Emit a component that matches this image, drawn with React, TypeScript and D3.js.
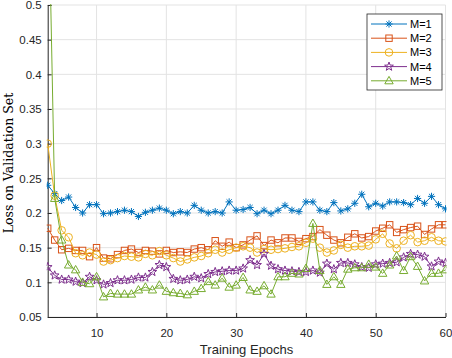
import React, { useEffect, useRef } from 'react';
import * as d3 from 'd3';

const epochs = [3, 4, 5, 6, 7, 8, 9, 10, 11, 12, 13, 14, 15, 16, 17, 18, 19, 20, 21, 22, 23, 24, 25, 26, 27, 28, 29, 30,
  31, 32, 33, 34, 35, 36, 37, 38, 39, 40, 41, 42, 43, 44, 45, 46, 47, 48, 49, 50, 51, 52, 53, 54, 55, 56, 57, 58, 59, 60];

const lossM1 = [0.240, 0.228, 0.218, 0.223, 0.208, 0.200, 0.212, 0.212, 0.199, 0.200, 0.202, 0.204, 0.202, 0.195, 0.201,
  0.204, 0.207, 0.204, 0.199, 0.202, 0.200, 0.211, 0.204, 0.200, 0.202, 0.200, 0.216, 0.204, 0.205, 0.208, 0.199, 0.204,
  0.199, 0.204, 0.211, 0.204, 0.202, 0.216, 0.216, 0.204, 0.202, 0.215, 0.203, 0.206, 0.214, 0.227, 0.209, 0.214, 0.210,
  0.216, 0.216, 0.215, 0.212, 0.221, 0.214, 0.224, 0.212, 0.206];

const lossM2 = [0.178, 0.161, 0.147, 0.149, 0.146, 0.146, 0.137, 0.150, 0.135, 0.134, 0.140, 0.146, 0.148, 0.143, 0.146,
  0.145, 0.141, 0.146, 0.143, 0.144, 0.143, 0.148, 0.150, 0.147, 0.160, 0.152, 0.158, 0.150, 0.154, 0.161, 0.167, 0.153,
  0.161, 0.157, 0.164, 0.164, 0.159, 0.163, 0.166, 0.176, 0.168, 0.161, 0.157, 0.165, 0.170, 0.164, 0.166, 0.174, 0.178,
  0.183, 0.172, 0.176, 0.179, 0.181, 0.169, 0.177, 0.183, 0.183];

const lossM3 = [0.300, 0.225, 0.175, 0.165, 0.142, 0.139, 0.143, 0.140, 0.130, 0.132, 0.135, 0.138, 0.137, 0.136, 0.141,
  0.139, 0.145, 0.139, 0.135, 0.130, 0.133, 0.136, 0.138, 0.142, 0.147, 0.143, 0.147, 0.150, 0.152, 0.150, 0.143, 0.148,
  0.147, 0.148, 0.149, 0.151, 0.152, 0.157, 0.163, 0.150, 0.143, 0.146, 0.154, 0.150, 0.152, 0.152, 0.153, 0.162, 0.170,
  0.156, 0.149, 0.160, 0.168, 0.158, 0.160, 0.165, 0.160, 0.159];

const lossM4 = [0.122, 0.110, 0.104, 0.104, 0.101, 0.099, 0.108, 0.103, 0.097, 0.099, 0.103, 0.103, 0.104, 0.107, 0.107,
  0.115, 0.125, 0.122, 0.105, 0.103, 0.104, 0.108, 0.106, 0.112, 0.115, 0.116, 0.117, 0.117, 0.120, 0.132, 0.125, 0.141,
  0.124, 0.119, 0.117, 0.116, 0.115, 0.115, 0.117, 0.114, 0.127, 0.119, 0.128, 0.128, 0.126, 0.122, 0.121, 0.126, 0.127,
  0.128, 0.129, 0.136, 0.141, 0.140, 0.137, 0.123, 0.130, 0.128];

const lossM5 = [0.720, 0.221, 0.161, 0.125, 0.118, 0.100, 0.098, 0.108, 0.079, 0.084, 0.083, 0.083, 0.083, 0.089, 0.093,
  0.089, 0.096, 0.087, 0.085, 0.084, 0.082, 0.087, 0.091, 0.101, 0.096, 0.106, 0.093, 0.096, 0.107, 0.089, 0.087, 0.095,
  0.083, 0.108, 0.108, 0.113, 0.112, 0.120, 0.185, 0.117, 0.097, 0.108, 0.097, 0.119, 0.121, 0.121, 0.126, 0.122, 0.113,
  0.125, 0.138, 0.117, 0.137, 0.123, 0.102, 0.113, 0.113, 0.118];

const seriesNames = ['M=1', 'M=2', 'M=3', 'M=4', 'M=5'];
const seriesColors = ['#0072BD', '#D95319', '#EDB120', '#7E2F8E', '#77AC30'];
const seriesMarkers = ['asterisk', 'square', 'circle', 'pentagram', 'triangle'];
const allLosses = [lossM1, lossM2, lossM3, lossM4, lossM5];

const xTicks = [10, 20, 30, 40, 50, 60];
const yTicks = [0.05, 0.1, 0.15, 0.2, 0.25, 0.3, 0.35, 0.4, 0.45, 0.5];

const W = 452;
const H = 358;

const drawMarker = (g, kind, color) => {
  if (kind === 'asterisk') {
    const r = 3.6;
    const d = r * 0.72;
    g.append('path')
      .attr('d', `M${-r},0L${r},0M0,${-r}L0,${r}M${-d},${-d}L${d},${d}M${-d},${d}L${d},${-d}`)
      .attr('stroke', color).attr('fill', 'none').attr('stroke-width', 1);
  } else if (kind === 'square') {
    g.append('rect').attr('x', -3.2).attr('y', -3.2).attr('width', 6.4).attr('height', 6.4)
      .attr('stroke', color).attr('fill', 'none').attr('stroke-width', 1);
  } else if (kind === 'circle') {
    g.append('circle').attr('r', 3.8)
      .attr('stroke', color).attr('fill', 'none').attr('stroke-width', 1);
  } else if (kind === 'pentagram') {
    const pts = d3.range(10).map(i => {
      const a = -Math.PI / 2 + (i * Math.PI) / 5;
      const rr = i % 2 === 0 ? 4.6 : 1.9;
      return [rr * Math.cos(a), rr * Math.sin(a)];
    });
    g.append('path').attr('d', 'M' + pts.map(p => p.join(',')).join('L') + 'Z')
      .attr('stroke', color).attr('fill', 'none').attr('stroke-width', 1);
  } else {
    g.append('path').attr('d', 'M0,-4.4L4.2,3L-4.2,3Z')
      .attr('stroke', color).attr('fill', 'none').attr('stroke-width', 1);
  }
};

const drawChart = (node) => {
  const margin = { top: 5, right: 6.5, bottom: 41, left: 47.7 };
  const iw = W - margin.left - margin.right;
  const ih = H - margin.top - margin.bottom;

  const x = d3.scaleLinear().domain([3, 60]).range([0, iw]);
  const y = d3.scaleLinear().domain([0.05, 0.5]).range([ih, 0]);

  const svg = d3.select(node);
  svg.selectAll('*').remove();

  svg.append('rect').attr('width', W).attr('height', H).attr('fill', '#fff');

  svg.append('defs').append('clipPath').attr('id', 'plotclip')
    .append('rect').attr('x', -1).attr('y', -1).attr('width', iw + 2).attr('height', ih + 2);

  const g = svg.append('g').attr('transform', `translate(${margin.left},${margin.top})`);

  // grid
  g.append('g').selectAll('line').data(xTicks).enter().append('line')
    .attr('x1', d => x(d)).attr('x2', d => x(d)).attr('y1', 0).attr('y2', ih)
    .attr('stroke', '#e3e3e3').attr('stroke-width', 1);
  g.append('g').selectAll('line').data(yTicks).enter().append('line')
    .attr('x1', 0).attr('x2', iw).attr('y1', d => y(d)).attr('y2', d => y(d))
    .attr('stroke', '#e3e3e3').attr('stroke-width', 1);

  // axes
  const xAxis = g.append('g').attr('transform', `translate(0,${ih})`)
    .call(d3.axisBottom(x).tickValues(xTicks).tickSizeInner(-4).tickSizeOuter(0).tickPadding(12));
  const yAxis = g.append('g')
    .call(d3.axisLeft(y).tickValues(yTicks).tickFormat(d => String(+d.toFixed(2))).tickSizeInner(-4).tickSizeOuter(0).tickPadding(6));
  [xAxis, yAxis].forEach(ax => {
    ax.select('.domain').attr('stroke', '#262626');
    ax.selectAll('.tick line').attr('stroke', '#262626');
    ax.selectAll('text').attr('fill', '#262626').attr('font-size', 11.5)
      .attr('font-family', '"Liberation Sans", Arial, sans-serif');
  });

  const plot = g.append('g').attr('clip-path', 'url(#plotclip)');
  const line = d3.line().x(d => x(d[0])).y(d => y(d[1]));

  allLosses.forEach((vals, i) => {
    const pts = epochs.map((e, j) => [e, vals[j]]);
    plot.append('path').datum(pts).attr('d', line)
      .attr('fill', 'none').attr('stroke', seriesColors[i]).attr('stroke-width', 1);
    const mk = plot.append('g').selectAll('g').data(pts).enter().append('g')
      .attr('transform', d => `translate(${x(d[0])},${y(d[1])})`);
    mk.each(function () { drawMarker(d3.select(this), seriesMarkers[i], seriesColors[i]); });
  });

  // labels
  svg.append('text').attr('x', margin.left + iw / 2).attr('y', 354)
    .attr('text-anchor', 'middle').attr('font-size', 13).attr('fill', '#262626')
    .attr('font-family', '"Liberation Sans", Arial, sans-serif')
    .text('Training Epochs');
  svg.append('text').attr('transform', `translate(13,${margin.top + ih / 2 + 2}) rotate(-90)`)
    .attr('text-anchor', 'middle').attr('font-size', 12.5).attr('fill', '#000')
    .attr('font-family', '"DejaVu Serif", "Liberation Serif", serif')
    .text('Loss on Validation Set');

  // legend
  const lg = svg.append('g').attr('transform', 'translate(367,14)');
  lg.append('rect').attr('width', 75).attr('height', 76)
    .attr('fill', '#fff').attr('stroke', '#262626').attr('stroke-width', 0.8);
  seriesNames.forEach((name, i) => {
    const row = lg.append('g').attr('transform', `translate(0,${10 + i * 14.2})`);
    row.append('line').attr('x1', 4).attr('x2', 40).attr('y1', 0).attr('y2', 0)
      .attr('stroke', seriesColors[i]).attr('stroke-width', 1);
    drawMarker(row.append('g').attr('transform', 'translate(22,0)'), seriesMarkers[i], seriesColors[i]);
    row.append('text').attr('x', 43).attr('y', 4).attr('font-size', 11).attr('fill', '#000')
      .attr('font-family', '"Liberation Sans", Arial, sans-serif').text(name);
  });
};

export default function App() {
  const ref = useRef(null);
  useEffect(() => {
    if (ref.current) drawChart(ref.current);
  }, []);
  return (
    <svg ref={ref} width={W} height={H} style={{ position: 'absolute', left: 0, top: 0 }} />
  );
}
